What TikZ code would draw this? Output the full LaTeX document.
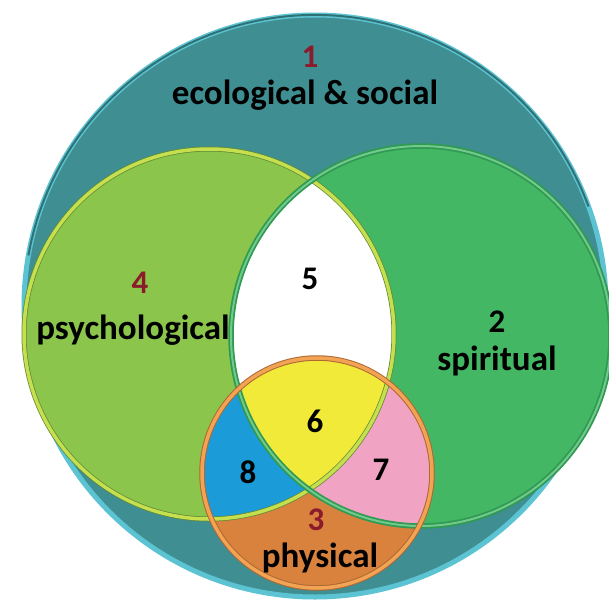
\documentclass[tikz,border=0pt]{standalone}
\usepackage{fontspec}
\setmainfont{Carlito}
\definecolor{tealfill}{HTML}{3F8E92}
\definecolor{tealrim}{HTML}{5CC3D2}
\definecolor{tealdark}{HTML}{2F7275}
\definecolor{psyfill}{HTML}{8BC54B}
\definecolor{psyrim}{HTML}{C6DF4E}
\definecolor{spifill}{HTML}{44B764}
\definecolor{spirim}{HTML}{2E9A52}
\definecolor{phyfill}{HTML}{D9823E}
\definecolor{phyrim}{HTML}{F2A454}
\definecolor{sixfill}{HTML}{F2EA38}
\definecolor{eightfill}{HTML}{1B9CD8}
\definecolor{sevenfill}{HTML}{F1A3C4}
\definecolor{numred}{HTML}{8B1A2B}
\tikzset{
  lbl/.style={font=\fontsize{35}{40}\selectfont\bfseries, text=black, inner sep=0pt},
  num/.style={font=\fontsize{33}{38}\selectfont\bfseries, text=black, inner sep=0pt},
  rednum/.style={num, text=numred}
}
\begin{document}
\begin{tikzpicture}[x=1pt,y=-1pt]
\useasboundingbox (0,0) rectangle (609,614);
\fill[white] (0,0) rectangle (609,614);
\coordinate (O) at (315,306);
\coordinate (L) at (209,334);
\coordinate (R) at (421,336);
\coordinate (P) at (317,473);
% outer circle
\fill[tealfill] (O) circle[radius=291pt];
\draw[tealrim, line width=5pt] (O) circle[radius=291pt];
\draw[tealdark, line width=2pt] (O) ++(20:291pt) arc[start angle=20, end angle=170, radius=291pt];
% psychological and spiritual
\fill[psyfill] (L) circle[radius=185pt];
\fill[spifill] (R) circle[radius=190pt];
\begin{scope}
  \clip (L) circle[radius=185pt];
  \fill[white] (R) circle[radius=190pt];
\end{scope}
% physical
\fill[phyfill] (P) circle[radius=115pt];
\begin{scope}
  \clip (P) circle[radius=115pt];
  \fill[eightfill] (L) circle[radius=185pt];
  \fill[sevenfill] (R) circle[radius=190pt];
  \clip (L) circle[radius=185pt];
  \fill[sixfill] (R) circle[radius=190pt];
\end{scope}
% outlines
\draw[psyfill!70!black, line width=5pt] (L) circle[radius=185pt];
\draw[psyrim, line width=3.5pt] (L) circle[radius=185pt];
\draw[spirim, line width=5.5pt] (R) circle[radius=190pt];
\draw[spifill!75!white, line width=2pt] (R) circle[radius=190pt];
\draw[phyfill!80!black, line width=5.5pt] (P) circle[radius=115pt];
\draw[phyrim, line width=3.5pt] (P) circle[radius=115pt];
% labels
\node[rednum] (n1) at (310,57) {1};
\node[lbl] (eco) at (305,95) {ecological \& social};
\node[rednum] (n4) at (140,283) {4};
\node[lbl] (psy) at (133,330) {psychological};
\node[num] (n2) at (497,322) {2};
\node[lbl] (spi) at (497,361) {spiritual};
\node[num] (n5) at (310,279) {5};
\node[num] (n6) at (315,421) {6};
\node[num] (n8) at (248,472) {8};
\node[num] (n7) at (381,470) {7};
\node[rednum] (n3) at (316,520) {3};
\node[lbl] (phy) at (320,558) {physical};
\end{tikzpicture}
\end{document}
